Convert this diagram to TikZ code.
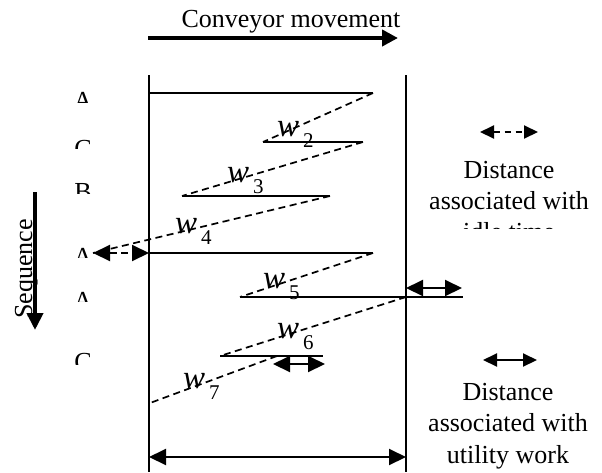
\documentclass[tikz,border=0pt]{standalone}
\usepackage{fontspec}
\setmainfont{Liberation Serif}
\usetikzlibrary{arrows.meta}

\tikzset{
  txt/.style={inner sep=0pt, font=\fontsize{26}{30}\selectfont},
  wlab/.style={inner sep=0pt, anchor=base west, font=\fontsize{33}{33}\selectfont\itshape},
  wsub/.style={inner sep=0pt, anchor=base west, font=\fontsize{21}{21}\selectfont},
  work/.style={line width=2pt},
  walk/.style={line width=1.7pt, dash pattern=on 7pt off 4.5pt},
  span/.style={line width=2pt, {Triangle[length=17pt,width=16pt]}-{Triangle[length=17pt,width=16pt]}},
  keyspan/.style={line width=2pt, {Triangle[length=14pt,width=13pt]}-{Triangle[length=14pt,width=13pt]}}
}

\begin{document}
\begin{tikzpicture}[x=1pt, y=-1pt, line join=round]
  \useasboundingbox (0,0) rectangle (602,472);

  % Coordinates
  \coordinate (sl1) at (149,75);  \coordinate (sl2) at (149,472);
  \coordinate (sr1) at (406,75);  \coordinate (sr2) at (406,472);
  \coordinate (a1s) at (149,93);  \coordinate (a1e) at (373,93);
  \coordinate (c2s) at (263,142); \coordinate (c2e) at (363,142);
  \coordinate (b3s) at (182,196); \coordinate (b3e) at (330,196);
  \coordinate (a4s) at (149,253); \coordinate (a4e) at (373,253);
  \coordinate (a5s) at (240,297); \coordinate (a5e) at (463,297);
  \coordinate (c6s) at (220,356); \coordinate (c6e) at (323,356);
  \coordinate (idl) at (93,253);
  \coordinate (r5) at (406,297);
  \coordinate (u7) at (277,356);  \coordinate (e7) at (150,403);
  \coordinate (u5a) at (406,288); \coordinate (u5b) at (462,288);
  \coordinate (u6a) at (273,364); \coordinate (u6b) at (325,364);
  \coordinate (d1) at (149,457);  \coordinate (d2) at (406,457);
  \coordinate (li1) at (480,132); \coordinate (li2) at (538,132);
  \coordinate (lu1) at (483,360); \coordinate (lu2) at (537,360);

  % Conveyor movement
  \coordinate (cv1) at (148,38); \coordinate (cv2) at (398,38);
  \draw[line width=4pt, -{Triangle[length=16pt,width=16pt]}] (cv1) -- (cv2);
  \node[txt, anchor=base] (conv) at (291,27) {Conveyor movement};

  % Sequence
  \coordinate (sq1) at (35,192); \coordinate (sq2) at (35,330);
  \draw[line width=4pt, -{Triangle[length=17pt,width=16pt]}] (sq1) -- (sq2);
  \node[txt, rotate=90, anchor=base] (seq) at (32,269) {Sequence};

  % Station borders
  \draw[line width=2pt] (sl1) -- (sl2);
  \draw[line width=2pt] (sr1) -- (sr2);

  % Work on the units
  \draw[work] (a1s) -- (a1e);
  \draw[work] (c2s) -- (c2e);
  \draw[work] (b3s) -- (b3e);
  \draw[work] (a4s) -- (a4e);
  \draw[work] (a5s) -- (a5e);
  \draw[work] (c6s) -- (c6e);

  % Walking back
  \draw[walk] (a1e) -- (c2s);
  \draw[walk] (c2e) -- (b3s);
  \draw[walk] (b3e) -- (idl);
  \draw[walk] (a4e) -- (a5s);
  \draw[walk] (r5) -- (c6s);
  \draw[walk] (u7) -- (e7);

  % Idle and utility distances
  \draw[walk, line width=2pt, {Triangle[length=17pt,width=16pt]}-{Triangle[length=17pt,width=16pt]}] (idl) -- (a4s);
  \draw[span] (u5a) -- (u5b);
  \draw[span] (u6a) -- (u6b);
  \draw[span] (d1) -- (d2);

  % Labels
  \foreach \i/\x/\y in {2/277/136, 3/227/182, 4/175/233, 5/263/288, 6/277/338, 7/183/388}{
    \node[wlab] (w\i) at (\x,\y) {w};
    \node[wsub] (ws\i) at (\x+26,\y+11) {\i};
  }

  % Models (cut off)
  \foreach \L/\t/\b [count=\k] in {A/92/102, C/140/148, B/183/193, A/248/257, A/292/301, C/353/364}{
    \begin{scope}
      \clip (60,\t-6) rectangle (110,\b);
      \node[txt, anchor=north] (m\k) at (83,\t) {\L};
    \end{scope}
  }

  % Key
  \draw[keyspan, dash pattern=on 6pt off 5pt] (li1) -- (li2);
  \node[txt, anchor=base] (ki1) at (509,178) {Distance};
  \node[txt, anchor=base] (ki2) at (509,209) {associated with};
  \begin{scope}
    \clip (420,200) rectangle (602,228);
    \node[txt, anchor=base] (ki3) at (509,240) {idle time};
  \end{scope}

  \draw[keyspan] (lu1) -- (lu2);
  \node[txt, anchor=base] (ku1) at (508,400) {Distance};
  \node[txt, anchor=base] (ku2) at (508,431) {associated with};
  \node[txt, anchor=base] (ku3) at (508,463) {utility work};
\end{tikzpicture}
\end{document}
